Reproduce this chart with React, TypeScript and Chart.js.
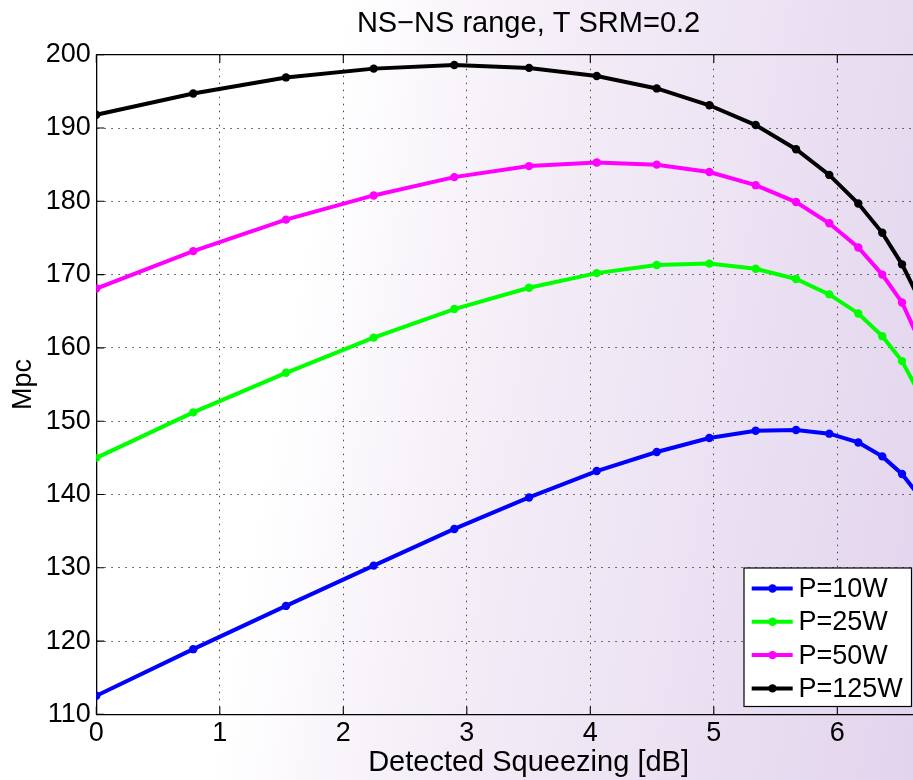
import React, { useEffect, useRef } from "react";
import { Chart, registerables } from "chart.js";

Chart.register(...registerables);

// ---- data ----
const squeezeDb = [0, 0.785, 1.536, 2.246, 2.899, 3.504, 4.052, 4.538, 4.964, 5.339, 5.666, 5.935, 6.17, 6.364, 6.524, 6.654];
const p10W = [112.55, 118.9, 124.8, 130.3, 135.3, 139.6, 143.2, 145.8, 147.7, 148.7, 148.8, 148.3, 147.1, 145.2, 142.8, 140.0];
const p25W = [145.0, 151.2, 156.6, 161.4, 165.3, 168.2, 170.2, 171.3, 171.5, 170.8, 169.4, 167.3, 164.7, 161.6, 158.2, 154.1];
const p50W = [168.1, 173.2, 177.5, 180.8, 183.3, 184.8, 185.3, 185.0, 184.0, 182.2, 179.9, 177.0, 173.7, 170.0, 166.2, 161.4];
const p125W = [191.8, 194.7, 196.9, 198.1, 198.6, 198.2, 197.1, 195.4, 193.1, 190.4, 187.1, 183.6, 179.7, 175.7, 171.4, 167.0];
const seriesLabels = ["P=10W", "P=25W", "P=50W", "P=125W"];
const seriesColors = ["#0000ff", "#00ff00", "#ff00ff", "#000000"];
const xTickValues = [0, 1, 2, 3, 4, 5, 6, 7];
const yTickValues = [110, 120, 130, 140, 150, 160, 170, 180, 190, 200];
const titleText = "NS\u2212NS range, T SRM=0.2";
const xTitle = "Detected Squeezing [dB]";
const yTitle = "Mpc";

const FONT = "'Liberation Sans', Arial, Helvetica, sans-serif";
const CANVAS_W = 980;
const CANVAS_H = 780;

const frameAndLegend = {
  id: "frameAndLegend",
  afterDatasetsDraw(chart: any) {
    const { ctx, chartArea: ca, scales } = chart;
    ctx.save();
    ctx.strokeStyle = "#000";
    ctx.lineWidth = 1.3;
    ctx.beginPath();
    ctx.moveTo(ca.left, ca.top);
    ctx.lineTo(ca.right, ca.top);
    ctx.moveTo(ca.right, ca.top);
    ctx.lineTo(ca.right, ca.bottom);
    ctx.stroke();
    const tl = 8;
    ctx.lineWidth = 1.1;
    ctx.beginPath();
    for (const v of xTickValues) {
      const px = scales.x.getPixelForValue(v);
      ctx.moveTo(px, ca.bottom);
      ctx.lineTo(px, ca.bottom - tl);
      ctx.moveTo(px, ca.top);
      ctx.lineTo(px, ca.top + tl);
    }
    for (const v of yTickValues) {
      const py = scales.y.getPixelForValue(v);
      ctx.moveTo(ca.left, py);
      ctx.lineTo(ca.left + tl, py);
      ctx.moveTo(ca.right, py);
      ctx.lineTo(ca.right - tl, py);
    }
    ctx.stroke();
    ctx.restore();
  },
  afterDraw(chart: any) {
    const { ctx } = chart;
    const bx = 744, by = 568, bw = 167.5, bh = 138.5;
    ctx.save();
    ctx.fillStyle = "#ffffff";
    ctx.fillRect(bx, by, bw, bh);
    ctx.strokeStyle = "#000";
    ctx.lineWidth = 1.2;
    ctx.strokeRect(bx, by, bw, bh);
    const rowH = 33.3;
    chart.data.datasets.forEach((ds: any, i: number) => {
      const cy = by + 20.5 + i * rowH;
      ctx.strokeStyle = ds.borderColor;
      ctx.lineWidth = 4;
      ctx.beginPath();
      ctx.moveTo(bx + 7.7, cy);
      ctx.lineTo(bx + 48.7, cy);
      ctx.stroke();
      ctx.fillStyle = ds.borderColor;
      ctx.beginPath();
      ctx.arc(bx + 28.5, cy, 4.2, 0, Math.PI * 2);
      ctx.fill();
      ctx.fillStyle = "#000";
      ctx.font = `27px ${FONT}`;
      ctx.textBaseline = "middle";
      ctx.textAlign = "left";
      ctx.fillText(ds.label, bx + 54.5, cy + 1);
    });
    ctx.restore();
  },
};

export default function App() {
  const ref = useRef<HTMLCanvasElement | null>(null);

  useEffect(() => {
    document.body.style.margin = "0";
    const values = [p10W, p25W, p50W, p125W];
    const chart = new Chart(ref.current as HTMLCanvasElement, {
      type: "line",
      data: {
        datasets: seriesLabels.map((label, i) => ({
          label,
          data: squeezeDb.map((x, j) => ({ x, y: values[i][j] })),
          borderColor: seriesColors[i],
          backgroundColor: seriesColors[i],
          pointBackgroundColor: seriesColors[i],
          pointBorderColor: seriesColors[i],
          borderWidth: 4,
          pointRadius: 4.2,
          pointBorderWidth: 0,
          tension: 0,
          fill: false,
        })),
      },
      options: {
        animation: false,
        responsive: false,
        devicePixelRatio: 1,
        layout: { padding: { left: 0, right: CANVAS_W - 960.8, top: 0, bottom: 0 } },
        plugins: {
          legend: { display: false },
          tooltip: { enabled: false },
          title: {
            display: true,
            text: titleText,
            fullSize: false,
            color: "#000",
            font: { family: FONT, size: 29, weight: "normal" },
            padding: { top: 6.4, bottom: 13.5 },
          },
        },
        scales: {
          x: {
            type: "linear",
            min: 0,
            max: 7,
            afterBuildTicks: (s: any) => {
              s.ticks = xTickValues.map((v) => ({ value: v }));
            },
            afterFit: (s: any) => {
              s.height = 65.6;
            },
            ticks: {
              color: "#000",
              font: { family: FONT, size: 27 },
              padding: 3.4,
              maxRotation: 0,
              autoSkip: false,
              callback: (v: any) => String(v),
            },
            grid: { color: "rgba(50,50,50,0.9)", lineWidth: 1, drawTicks: false },
            border: { display: true, color: "#000", width: 1.3, dash: [1.5, 5.5] },
            title: {
              display: true,
              text: xTitle,
              color: "#000",
              font: { family: FONT, size: 29 },
              padding: { top: 0, bottom: 0 },
            },
          },
          y: {
            type: "linear",
            min: 110,
            max: 200,
            afterBuildTicks: (s: any) => {
              s.ticks = yTickValues.map((v) => ({ value: v }));
            },
            afterFit: (s: any) => {
              s.width = 96.3;
            },
            ticks: {
              color: "#000",
              font: { family: FONT, size: 27 },
              padding: 5.6,
              autoSkip: false,
              callback: (v: any) => String(v),
            },
            grid: { color: "rgba(50,50,50,0.9)", lineWidth: 1, drawTicks: false },
            border: { display: true, color: "#000", width: 1.3, dash: [1.5, 5.5] },
            title: {
              display: true,
              text: yTitle,
              color: "#000",
              font: { family: FONT, size: 27 },
              padding: { top: 7.8, bottom: 0 },
            },
          },
        },
      },
      plugins: [frameAndLegend],
    } as any);
    return () => chart.destroy();
  }, []);

  return (
    <div
      style={{
        position: "relative",
        width: 913,
        height: 780,
        overflow: "hidden",
        background:
          "linear-gradient(100deg, #ffffff 0%, #ffffff 33%, #f5eff8 52%, #ece2f3 75%, #e2d4ed 100%)",
      }}
    >
      <canvas ref={ref} width={CANVAS_W} height={CANVAS_H} style={{ display: "block" }} />
    </div>
  );
}
